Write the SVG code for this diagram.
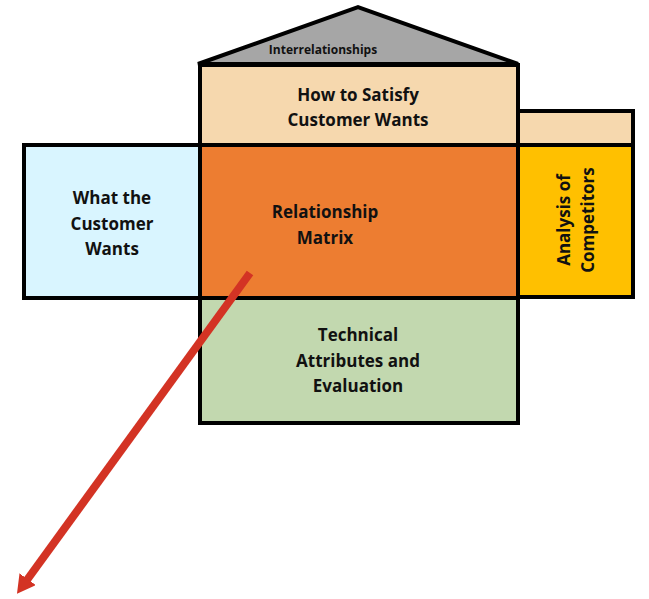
<svg xmlns="http://www.w3.org/2000/svg" width="649" height="599" viewBox="0 0 649 599">
<style>
.box{stroke:#000;stroke-width:4;stroke-linejoin:miter}
.t{font-family:"Open Sans","Liberation Sans",sans-serif;font-weight:bold;font-size:17px;fill:#111;text-anchor:middle}
</style>
<defs>
<marker id="ah" markerWidth="18" markerHeight="20" refX="1" refY="10" orient="auto" markerUnits="userSpaceOnUse">
<path d="M0,0 L18,10 L0,20 Z" fill="#D33324"/>
</marker>
</defs>
<rect width="649" height="599" fill="#fff"/>
<g id="roof">
<polygon class="box" points="198,64 358,7 518,64" fill="#A6A6A6"/>
<text class="t" x="323" y="54" style="font-size:12px">Interrelationships</text>
</g>
<g id="how">
<rect class="box" x="200" y="65" width="318" height="80" fill="#F6D8AE"/>
<text class="t" x="358" y="101">How to Satisfy</text>
<text class="t" x="358" y="126">Customer Wants</text>
</g>
<g id="top-right">
<rect class="box" x="518" y="111" width="115" height="34" fill="#F6D8AE"/>
</g>
<g id="what">
<rect class="box" x="24" y="145" width="176" height="153" fill="#D9F5FF"/>
<text class="t" x="112" y="204">What the</text>
<text class="t" x="112" y="230">Customer</text>
<text class="t" x="112" y="255">Wants</text>
</g>
<g id="matrix">
<rect class="box" x="200" y="145" width="318" height="153" fill="#ED7D31"/>
<text class="t" x="325" y="218">Relationship</text>
<text class="t" x="325" y="244">Matrix</text>
</g>
<g id="competitors">
<rect class="box" x="518" y="145" width="115" height="152" fill="#FFC000"/>
<text class="t" transform="translate(570,220) rotate(-90)">Analysis of</text>
<text class="t" transform="translate(594,220) rotate(-90)">Competitors</text>
</g>
<g id="technical">
<rect class="box" x="200" y="298" width="318" height="125" fill="#C2D8AF"/>
<text class="t" x="358" y="341">Technical</text>
<text class="t" x="358" y="367">Attributes and</text>
<text class="t" x="358" y="392">Evaluation</text>
</g>
<g id="connectors">
<line x1="250" y1="273" x2="27" y2="580" stroke="#D33324" stroke-width="8" marker-end="url(#ah)"/>
</g>
</svg>
